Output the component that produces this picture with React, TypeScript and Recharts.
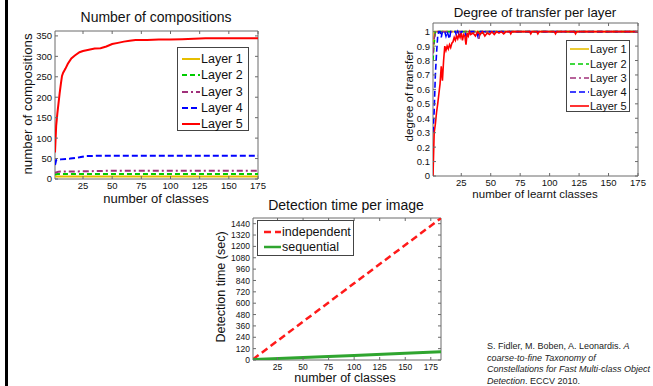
import { LineChart, Line, XAxis, YAxis, ReferenceArea } from 'recharts';

// Three MATLAB-style panels from the Fidler et al. slide: compositions,
// transfer per layer and detection time. Box + inward ticks like MATLAB.

const FONT = 'Arial, "Liberation Sans", Helvetica, sans-serif';
const AXIS = '#6a6a6a';
const INK = '#111';

// --- Number of compositions (class, count) ---
const compXTicks = [25, 50, 75, 100, 125, 150, 175];
const compYTicks = [0, 50, 100, 150, 200, 250, 300, 350];
const compLayer1 = [[1, 6], [175, 6]];
const compLayer2 = [[1, 11], [3, 12], [175, 12]];
const compLayer3 = [[1, 15], [4, 18], [30, 19], [45, 20], [175, 20]];
const compLayer4 = [[1, 34], [2, 46], [6, 48], [14, 50], [22, 53], [27, 56], [40, 57], [175, 57]];
const compLayer5 = [
  [1, 65], [2, 130], [3, 160], [4, 185], [5, 210], [6, 232], [7, 252], [8, 260], [10, 270],
  [12, 282], [15, 295], [18, 302], [22, 310], [25, 313], [30, 316], [35, 319], [40, 320],
  [45, 324], [50, 330], [55, 333], [60, 336], [65, 338], [70, 340], [80, 340], [90, 341],
  [100, 341], [110, 342], [120, 343], [130, 344], [150, 344], [175, 344],
];

// --- Degree of transfer per layer (learnt classes, degree) ---
const transXTicks = [25, 50, 75, 100, 125, 150, 175];
const transYTicks = [0, 0.1, 0.2, 0.3, 0.4, 0.5, 0.6, 0.7, 0.8, 0.9, 1];
const transLayer1 = [[1, 0.88], [2, 1], [175, 1]];
const transLayer2 = [[1, 0.8], [2, 0.92], [3, 1], [42, 1], [43, 0.99], [44, 1], [175, 1]];
const transLayer3 = [[1, 0.85], [2, 0.95], [3, 1], [39, 1], [40, 0.95], [41, 1], [175, 1]];
const transLayer4 = [
  [1, 0.3], [2, 0.45], [3, 0.7], [4, 0.85], [5, 0.97], [6, 1], [7, 1], [8, 0.96], [9, 1],
  [11, 1], [12, 0.97], [13, 1], [15, 0.95], [16, 1], [20, 1], [21, 0.97], [22, 1], [24, 0.96],
  [25, 1], [28, 1], [29, 0.97], [30, 1], [38, 1], [39, 0.97], [40, 1], [175, 1],
];
const transLayer5 = [
  [1, 0], [2, 0.3], [3, 0.36], [4, 0.44], [5, 0.5], [6, 0.57], [7, 0.64], [8, 0.76], [9, 0.66],
  [10, 0.8], [11, 0.9], [12, 0.87], [13, 0.9], [14, 0.88], [15, 0.91], [16, 0.89], [17, 0.92],
  [18, 0.93], [19, 0.96], [20, 0.94], [21, 0.97], [22, 0.95], [23, 0.98], [24, 0.96], [25, 0.99],
  [26, 0.94], [27, 0.98], [28, 0.97], [29, 0.91], [30, 0.99], [31, 0.97], [32, 1], [33, 0.98],
  [35, 0.99], [37, 0.97], [39, 1], [41, 0.98], [43, 1], [45, 0.97], [47, 0.99], [49, 0.98],
  [51, 1], [53, 0.98], [55, 1], [57, 0.99], [59, 1], [61, 0.985], [63, 1], [66, 1], [67, 0.985],
  [68, 1], [83, 1], [84, 0.985], [85, 1], [89, 1], [90, 0.985], [91, 1], [104, 1], [105, 0.985],
  [106, 1], [121, 1], [122, 0.985], [123, 1], [175, 1],
];

// --- Detection time per image (classes, seconds) ---
const timeXTicks = [25, 50, 75, 100, 125, 150, 175];
const timeYTicks = [0, 120, 240, 360, 480, 600, 720, 840, 960, 1080, 1200, 1320, 1440];
const timeIndependent = [[1, 8], [50, 405], [100, 810], [150, 1215], [185, 1498]];
const timeSequential = [[1, 6], [50, 27], [100, 48], [150, 70], [185, 88]];

type Pair = number[];
type Series = { name: string; color: string; dash?: string; width: number; data: Pair[] };
type Box = { left: number; top: number; width: number; height: number; pl: number; pr: number; pt: number; pb: number };

const toPoints = (pairs: Pair[]) => pairs.map(([c, v]) => ({ c, v }));

const layerStyle = [
  { name: 'Layer 1', color: '#E6BE00' },
  { name: 'Layer 2', color: '#00CC00', dash: '5 3' },
  { name: 'Layer 3', color: '#A0307A', dash: '6 3 2 3' },
  { name: 'Layer 4', color: '#0000FF', dash: '6 3' },
  { name: 'Layer 5', color: '#FF0000' },
];

const compSeries: Series[] = [compLayer1, compLayer2, compLayer3, compLayer4, compLayer5].map((d, i) => ({
  ...layerStyle[i], width: 2, data: d,
}));
const transSeries: Series[] = [transLayer1, transLayer2, transLayer3, transLayer4, transLayer5].map((d, i) => ({
  ...layerStyle[i], width: 1.6, data: d,
}));
const timeSeries: Series[] = [
  { name: 'independent', color: '#FF1a1a', dash: '7 4', width: 2.5, data: timeIndependent },
  { name: 'sequential', color: '#2FA52F', width: 3, data: timeSequential },
];

function xTick(b: Box, fs: number) {
  return (props: any) => {
    const { x, payload } = props;
    return (
      <g>
        <line x1={x} x2={x} y1={b.pb} y2={b.pb - 3} stroke={AXIS} />
        <line x1={x} x2={x} y1={b.pt} y2={b.pt + 3} stroke={AXIS} />
        <text x={x} y={b.pb + 6.5 + fs * 0.36} textAnchor="middle" fontSize={fs} fontFamily={FONT} fill={INK}>
          {payload.value}
        </text>
      </g>
    );
  };
}

function yTick(b: Box, fs: number) {
  return (props: any) => {
    const { y, payload } = props;
    return (
      <g>
        <line x1={b.pl} x2={b.pl + 3} y1={y} y2={y} stroke={AXIS} />
        <line x1={b.pr} x2={b.pr - 3} y1={y} y2={y} stroke={AXIS} />
        <text x={b.pl - 3} y={y + fs * 0.36} textAnchor="end" fontSize={fs} fontFamily={FONT} fill={INK}>
          {String(payload.value)}
        </text>
      </g>
    );
  };
}

function Panel({ b, xDomain, yDomain, xTicks, yTicks, fs, series }: {
  b: Box; xDomain: number[]; yDomain: number[]; xTicks: number[]; yTicks: number[]; fs: number; series: Series[];
}) {
  return (
    <div style={{ position: 'absolute', left: b.left, top: b.top }}>
      <LineChart width={b.width} height={b.height} margin={{ top: b.pt, right: b.width - b.pr, left: 0, bottom: 0 }}>
        <XAxis
          type="number" dataKey="c" domain={xDomain} ticks={xTicks} allowDataOverflow interval={0}
          height={b.height - b.pb} axisLine={false} tickLine={false} tick={xTick(b, fs)}
        />
        <YAxis
          type="number" domain={yDomain} ticks={yTicks} allowDataOverflow interval={0}
          width={b.pl} axisLine={false} tickLine={false} tick={yTick(b, fs)}
        />
        <ReferenceArea
          x1={xDomain[0]} x2={xDomain[1]} y1={yDomain[0]} y2={yDomain[1]}
          fill="none" fillOpacity={0} stroke={AXIS} strokeWidth={1} ifOverflow="visible"
        />
        {series.map((s) => (
          <Line
            key={s.name} data={toPoints(s.data)} dataKey="v" type="linear" stroke={s.color}
            strokeWidth={s.width} strokeDasharray={s.dash} dot={false} activeDot={false}
            isAnimationActive={false}
          />
        ))}
      </LineChart>
    </div>
  );
}

function Caption({ x, y, fs, text, rotate }: { x: number; y: number; fs: number; text: string; rotate?: boolean }) {
  return (
    <div style={{
      position: 'absolute', left: x, top: y, fontSize: fs, lineHeight: 1, whiteSpace: 'nowrap', color: INK,
      fontFamily: FONT, transform: `translate(-50%, -50%)${rotate ? ' rotate(-90deg)' : ''}`,
    }}>
      {text}
    </div>
  );
}

function LegendBox({ left, top, width, height, first, step, sampleX, sampleW, fs, series }: {
  left: number; top: number; width: number; height: number; first: number; step: number;
  sampleX: number; sampleW: number; fs: number; series: Series[];
}) {
  return (
    <div style={{ position: 'absolute', left, top, width, height, border: '1px solid #444', background: '#fff', boxSizing: 'border-box' }}>
      {series.map((s, i) => (
        <div key={s.name} style={{
          position: 'absolute', left: sampleX, top: first + i * step - 8, height: 16,
          display: 'flex', alignItems: 'center', whiteSpace: 'nowrap',
        }}>
          <svg width={sampleW} height={4} style={{ display: 'block' }}>
            <line x1={0} x2={sampleW} y1={2} y2={2} stroke={s.color} strokeWidth={Math.min(s.width, 2.5)} strokeDasharray={s.dash} />
          </svg>
          <span style={{ fontSize: fs, fontFamily: FONT, color: INK, marginLeft: 1 }}>{s.name}</span>
        </div>
      ))}
    </div>
  );
}

export default function App() {
  const compBox: Box = { left: 0, top: 0, width: 270, height: 200, pl: 55, pr: 258, pt: 31, pb: 179 };
  const transBox: Box = { left: 380, top: 0, width: 273, height: 200, pl: 53, pr: 258, pt: 23, pb: 176 };
  const timeBox: Box = { left: 200, top: 200, width: 250, height: 178, pl: 53, pr: 241, pt: 18, pb: 160 };

  return (
    <div style={{ position: 'absolute', left: 0, top: 0, width: 653, height: 386, background: '#fff', overflow: 'hidden', fontFamily: FONT }}>
      <div style={{ position: 'absolute', left: 5, top: 0, width: 3, height: 386, background: '#000' }} />

      <Panel b={compBox} xDomain={[1, 175]} yDomain={[0, 362]} xTicks={compXTicks} yTicks={compYTicks} fs={9.5} series={compSeries} />
      <Caption x={156} y={17} fs={14} text="Number of compositions" />
      <Caption x={28} y={104} fs={13.3} text="number of compositions" rotate />
      <Caption x={156} y={198} fs={13} text="number of classes" />
      <LegendBox left={177} top={47} width={72} height={84} first={11} step={16.25} sampleX={4} sampleW={18} fs={12.5} series={compSeries} />

      <Panel b={transBox} xDomain={[1, 175]} yDomain={[0, 1.06]} xTicks={transXTicks} yTicks={transYTicks} fs={9.5} series={transSeries} />
      <Caption x={535} y={13} fs={13.3} text="Degree of transfer per layer" />
      <Caption x={410} y={96} fs={11.5} text="degree of transfer" rotate />
      <Caption x={535} y={194.5} fs={11.5} text="number of learnt classes" />
      <LegendBox left={566} top={40} width={64} height={72} first={8.3} step={14.2} sampleX={3} sampleW={19} fs={11} series={transSeries} />

      <Panel b={timeBox} xDomain={[1, 185]} yDomain={[0, 1500]} xTicks={timeXTicks} yTicks={timeYTicks} fs={8.5} series={timeSeries} />
      <Caption x={346} y={205} fs={14} text="Detection time per image" />
      <Caption x={221} y={287} fs={12.5} text="Detection time (sec)" rotate />
      <Caption x={345} y={378} fs={12.5} text="number of classes" />
      <LegendBox left={257} top={220} width={97} height={36} first={11} step={15} sampleX={6} sampleW={17} fs={12.5} series={timeSeries} />

      <div style={{ position: 'absolute', left: 487, top: 341, fontSize: 9, lineHeight: '11.7px', color: '#222', fontFamily: FONT, whiteSpace: 'nowrap' }}>
        S. Fidler, M. Boben, A. Leonardis. <i>A</i><br />
        <i>coarse-to-fine Taxonomy of</i><br />
        <i>Constellations for Fast Multi-class Object</i><br />
        <i>Detection</i>. ECCV 2010.
      </div>
    </div>
  );
}
